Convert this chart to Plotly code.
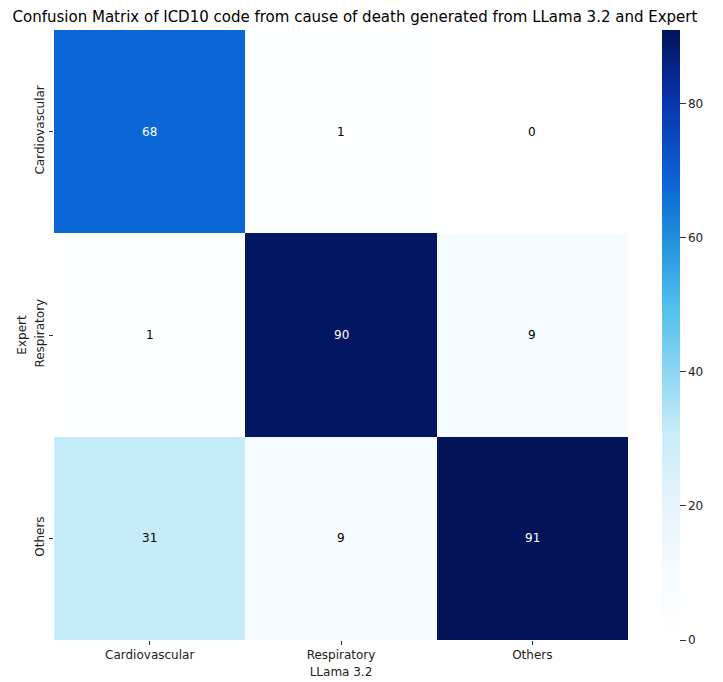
import plotly.graph_objects as go

categories_pred = ["Cardiovascular", "Respiratory", "Others"]
categories_true = ["Cardiovascular", "Respiratory", "Others"]
counts = [
    [68, 1, 0],
    [1, 90, 9],
    [31, 9, 91],
]
colorbar_ticks = [0, 20, 40, 60, 80]

zmax = 91.0
stops = [
    (0, "#ffffff"),
    (10, "#f5fbff"),
    (20, "#e6f3fd"),
    (31, "#c6ecfa"),
    (40, "#8dd5f1"),
    (50, "#50bfec"),
    (60, "#1f8fdc"),
    (68, "#0b66d6"),
    (80, "#0935b0"),
    (91, "#02135a"),
]
colorscale = [[v / zmax, c] for v, c in stops]

# page body has an 8px margin; figure is offset accordingly
OFF = 8
W, H = 723 - OFF, 682 - OFF
L, T = 54 - OFF, 30 - OFF
R = W - (628 - OFF)
B = H - (640 - OFF)

fig = go.Figure()
fig.add_trace(go.Heatmap(
    z=counts,
    x=categories_pred,
    y=categories_true,
    zmin=0, zmax=zmax,
    colorscale=colorscale,
    showscale=True,
    hoverinfo="skip",
    colorbar=dict(
        thickness=18,
        len=1.0,
        lenmode="fraction",
        x=(662 - 54) / (628 - 54), xref="paper", xanchor="left",
        xpad=0, ypad=0,
        y=0.5, yanchor="middle",
        outlinewidth=0,
        tickvals=colorbar_ticks,
        ticks="outside",
        ticklen=6,
        tickcolor="#333",
        tickfont=dict(family="DejaVu Sans", size=12, color="#222"),
    ),
))

for i, row in enumerate(counts):
    for j, v in enumerate(row):
        fig.add_annotation(
            x=categories_pred[j], y=categories_true[i], text=str(v),
            showarrow=False,
            font=dict(family="DejaVu Sans", size=12,
                      color="white" if v > 50 else "black"),
        )

fig.update_layout(
    width=W, height=H,
    margin=dict(l=L, r=R, t=T, b=B, pad=0, autoexpand=False),
    paper_bgcolor="white",
    plot_bgcolor="white",
    font=dict(family="DejaVu Sans", size=12, color="#222"),
    title=dict(
        text="Confusion Matrix of ICD10 code from cause of death generated from LLama 3.2 and Expert",
        x=(355 - OFF) / W, xanchor="center", xref="container",
        y=1 - (17 - OFF) / H, yanchor="middle", yref="container",
        font=dict(family="DejaVu Sans", size=15, color="black"),
    ),
    xaxis=dict(
        title=dict(text="LLama 3.2", standoff=6, font=dict(size=12)),
        ticks="outside", ticklen=4, tickcolor="#333",
        showgrid=False, zeroline=False, showline=False,
        tickfont=dict(size=12), automargin=False,
    ),
    yaxis=dict(
        title=dict(text="Expert", standoff=4, font=dict(size=12)),
        autorange="reversed",
        ticks="outside", ticklen=4, tickcolor="#333",
        tickangle=-90,
        showgrid=False, zeroline=False, showline=False,
        tickfont=dict(size=12), automargin=False,
    ),
)

fig.write_html("out.html")
